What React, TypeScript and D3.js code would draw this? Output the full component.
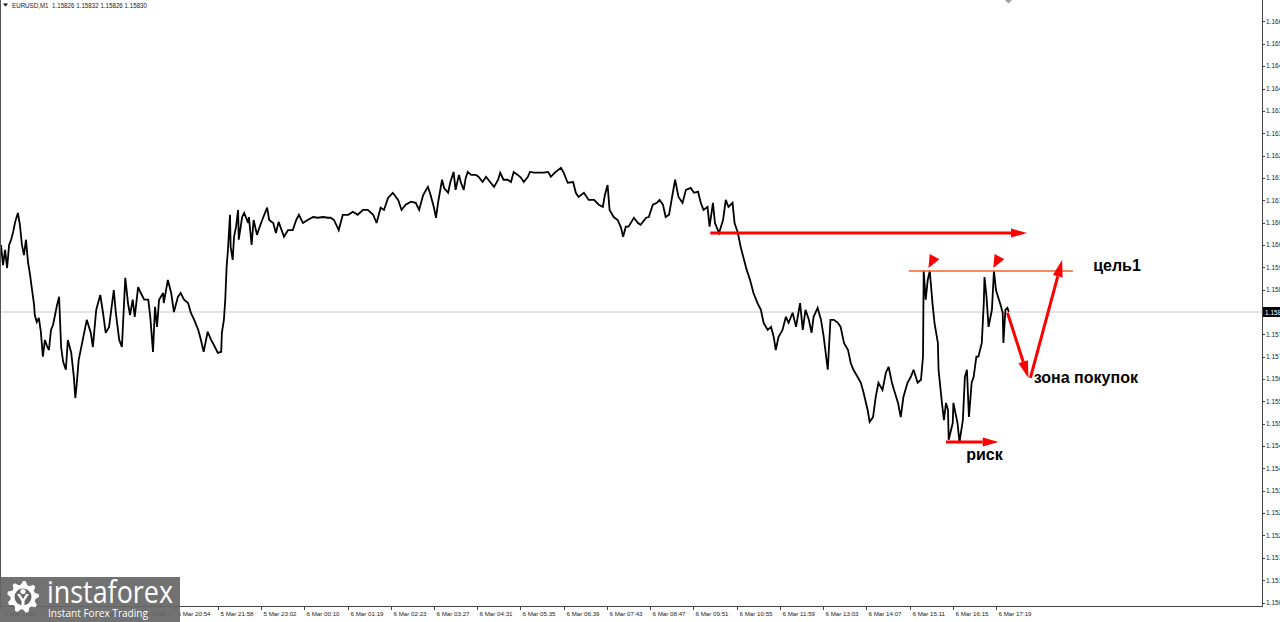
import React from "react";
import * as d3 from "d3";

const W = 1280;
const H = 622;

// ---- data (M1 bar index from chart start, price) ----
const bars = [0,3,6,9,12,15,18,21,25,28,31,34,37,40,43,46,49,50,53,56,59,62,65,68,71,74,77,80,83,86,89,92,96,99,104,108,110,112,115,121,127,133,136,141,147,151,155,160,167,170,175,179,184,188,191,195,198,203,207,212,218,221,225,228,231,234,240,241,247,252,256,262,266,271,277,281,286,292,296,300,306,311,315,321,326,327,330,332,334,336,339,340,343,345,348,351,352,357,360,366,367,371,374,379,383,388,394,397,403,407,411,419,425,432,437,441,447,454,462,469,477,484,488,493,500,506,514,521,528,536,543,551,556,562,567,573,580,588,593,599,607,614,619,625,632,636,641,644,647,653,656,662,665,670,673,678,681,685,688,691,696,703,707,713,718,725,730,736,739,744,750,755,759,765,770,774,780,783,789,796,804,810,814,821,829,833,839,847,851,855,863,870,878,885,891,894,898,901,907,913,918,921,925,929,937,943,947,955,959,965,971,975,980,984,989,992,998,1003,1009,1014,1021,1026,1032,1036,1040,1046,1049,1054,1057,1063,1069,1073,1077,1083,1086,1091,1095,1100,1104,1109,1114,1120,1125,1129,1135,1140,1144,1147,1151,1157,1162,1166,1172,1177,1183,1187,1191,1196,1200,1203,1209,1214,1218,1224,1228,1233,1239,1243,1248,1254,1258,1262,1268,1273,1277,1283,1286,1291,1295,1299,1305,1310,1314,1319,1322,1328,1332,1336,1342,1347,1351,1357,1362,1365,1366,1369,1372,1375,1379,1382,1387,1388,1393,1396,1399,1402,1403,1409,1410,1416,1419,1424,1427,1430,1433,1437,1440,1444,1447,1452,1455,1456,1459,1462,1467,1470,1473,1476,1479,1483,1484,1487,1490,1492];

const prices = [
1.16010,1.15956,1.15997,1.15948,1.16010,1.16024,1.16045,1.16072,1.16096,1.16064,1.16010,1.15983,1.16024,1.15964,1.15930,1.15889,1.15849,1.15822,1.15803,1.15814,1.15777,1.15710,1.15755,1.15739,1.15728,1.15782,1.15795,1.15822,1.15849,1.15871,
1.15736,1.15696,1.15675,1.15755,1.15720,1.15653,1.15599,1.15634,1.15701,1.15755,1.15809,1.15774,1.15736,1.15836,1.15876,1.15828,1.15774,1.15790,1.15889,1.15828,1.15755,1.15736,1.15922,1.15854,1.15822,1.15863,1.15817,1.15897,1.15881,1.15863,
1.15863,1.15817,1.15723,1.15844,1.15790,1.15863,1.15881,1.15854,1.15916,1.15881,1.15830,1.15871,1.15881,1.15863,1.15854,1.15828,1.15809,1.15782,1.15755,1.15723,1.15777,1.15755,1.15742,1.15720,1.15723,1.15774,1.15809,1.15863,1.15951,1.15997,
1.16091,1.16005,1.15970,1.16032,1.16059,1.16104,1.16024,1.16085,1.16096,1.16069,1.16085,1.16010,1.16077,1.16037,1.16059,1.16083,1.16110,1.16077,1.16069,1.16042,1.16072,1.16032,1.16050,1.16050,1.16077,1.16091,1.16069,1.16077,1.16085,1.16083,
1.16085,1.16083,1.16083,1.16077,1.16050,1.16091,1.16091,1.16099,1.16091,1.16104,1.16104,1.16091,1.16069,1.16110,1.16104,1.16136,1.16150,1.16131,1.16104,1.16118,1.16126,1.16123,1.16104,1.16144,1.16166,1.16144,1.16110,1.16083,1.16123,1.16185,
1.16163,1.16150,1.16177,1.16206,1.16158,1.16198,1.16177,1.16158,1.16190,1.16206,1.16198,1.16198,1.16193,1.16179,1.16193,1.16177,1.16166,1.16185,1.16204,1.16185,1.16185,1.16179,1.16206,1.16198,1.16190,1.16179,1.16193,1.16206,1.16204,1.16204,
1.16204,1.16206,1.16193,1.16206,1.16217,1.16204,1.16177,1.16179,1.16150,1.16139,1.16150,1.16131,1.16131,1.16118,1.16112,1.16144,1.16171,1.16104,1.16085,1.16077,1.16056,1.16032,1.16059,1.16059,1.16083,1.16069,1.16064,1.16083,1.16085,1.16118,1.16123,1.16131,1.16118,1.16085,1.16091,
1.16123,1.16185,1.16139,1.16123,1.16158,1.16163,1.16150,1.16153,1.16123,1.16104,1.16112,1.16059,1.16123,1.16069,1.16042,1.16077,1.16131,1.16112,1.16123,1.16069,1.16042,1.16005,1.15970,1.15943,1.15916,1.15881,1.15854,1.15836,1.15801,1.15782,
1.15790,1.15763,1.15728,1.15763,1.15782,1.15817,1.15801,1.15828,1.15790,1.15854,1.15782,1.15836,1.15809,1.15774,1.15817,1.15841,1.15809,1.15763,1.15675,1.15809,1.15809,1.15801,1.15790,1.15747,1.15728,1.15693,1.15675,1.15656,1.15640,1.15613,
1.15567,1.15535,1.15548,1.15602,1.15640,1.15621,1.15667,1.15683,1.15640,1.15621,1.15586,1.15548,1.15602,1.15640,1.15656,1.15675,1.15640,1.15648,1.15710,1.15940,1.15863,1.15916,1.15940,1.15854,1.15801,1.15747,1.15675,1.15586,1.15540,1.15586,
1.15567,1.15487,1.15532,1.15586,1.15532,1.15481,1.15540,1.15656,1.15675,1.15548,1.15640,1.15656,1.15710,1.15710,1.15747,1.15854,1.15924,1.15871,1.15790,1.15836,1.15940,1.15889,1.15871,1.15854,1.15828,1.15747,1.15836,1.15841,1.15830
];

const priceTicks = [1.15050,1.15110,1.15170,1.15230,1.15290,1.15350,1.15410,1.15470,1.15530,1.15590,1.15650,1.15710,1.15770,1.15830,1.15890,1.15950,1.16010,1.16070,1.16130,1.16190,1.16250,1.16310,1.16370,1.16430,1.16490,1.16550,1.16610];

const timeLabels = ["5 Mar 2025","5 Mar 17:42","5 Mar 18:46","5 Mar 19:50","5 Mar 20:54","5 Mar 21:58","5 Mar 23:02","6 Mar 00:10","6 Mar 01:19","6 Mar 02:23","6 Mar 03:27","6 Mar 04:31","6 Mar 05:35","6 Mar 06:39","6 Mar 07:43","6 Mar 08:47","6 Mar 09:51","6 Mar 10:55","6 Mar 11:59","6 Mar 13:03","6 Mar 14:07","6 Mar 15:11","6 Mar 16:15","6 Mar 17:19"];
const firstLabelBar = 1;
const barsPerLabel = 64;

const symbolHeader = "EURUSD,M1  1.15826 1.15832 1.15826 1.15830";
const lastPrice = 1.15830;

// ---- annotations (in bar / price units) ----
const levelArrow = { fromBar: 1050, toBar: 1519, price: 1.16042 };
const targetLine = { fromBar: 1344, toBar: 1587, price: 1.15940 };
const peakBars = [1373, 1469];
const riskArrow = { fromBar: 1399, toBar: 1477, price: 1.15481 };
const scenarioBars = [1490, 1521, 1571];
const scenarioPrices = [1.15828, 1.15653, 1.15970];
const noteTexts = ["цель1", "зона покупок", "риск"];
const noteBars = [1617, 1529, 1429];
const notePrices = [1.15940, 1.15640, 1.15433];

// ---- layout ----
const plotLeft = 1;
const plotRight = 1262;
const plotBottom = 606;
const pxPerBar = 43.23 / 64;

const x = d3.scaleLinear().domain([0, (plotRight - plotLeft) / pxPerBar]).range([plotLeft, plotRight]);
const y = d3.scaleLinear().domain([1.1505, 1.1661]).range([602.55, 21.45]);

function arrowHead(x1: number, y1: number, x2: number, y2: number, L: number, w: number) {
  const dx = x2 - x1, dy = y2 - y1;
  const len = Math.hypot(dx, dy);
  const ux = dx / len, uy = dy / len;
  const bx = x2 - ux * L, by = y2 - uy * L;
  const nx = -uy, ny = ux;
  return {
    base: [bx, by],
    points: `${x2},${y2} ${bx + nx * w},${by + ny * w} ${bx - nx * w},${by - ny * w}`,
  };
}

function gearPath(cx: number, cy: number, rOut: number, rIn: number, teeth: number) {
  const p = d3.path();
  const n = teeth * 4;
  for (let i = 0; i < n; i++) {
    const a = (i / n) * Math.PI * 2 - Math.PI / 2;
    const r = i % 4 < 2 ? rOut : rIn;
    const px = cx + r * Math.cos(a), py = cy + r * Math.sin(a);
    if (i === 0) p.moveTo(px, py); else p.lineTo(px, py);
  }
  p.closePath();
  return p.toString();
}

export default function App() {
  const series = bars.map((b, i) => [b, prices[i]] as [number, number]);
  const line = d3.line<[number, number]>().x(d => x(d[0])).y(d => y(d[1]));

  const red = "#ff0000";
  const axisFont = "'Liberation Sans', Arial, sans-serif";

  const la = arrowHead(x(levelArrow.fromBar), y(levelArrow.price), x(levelArrow.toBar), y(levelArrow.price), 16, 4.5);
  const ra = arrowHead(x(riskArrow.fromBar), y(riskArrow.price), x(riskArrow.toBar), y(riskArrow.price), 16, 4.5);
  const sp = scenarioBars.map((b, i) => [x(b), y(scenarioPrices[i])]);
  const s1 = arrowHead(sp[0][0], sp[0][1], sp[1][0], sp[1][1], 17, 5);
  const s2 = arrowHead(sp[1][0] + 2, sp[1][1], sp[2][0], sp[2][1], 17, 5);

  const lastY = y(lastPrice);

  return (
    <svg width={W} height={H} style={{ position: "absolute", left: 0, top: 0, background: "#fff" }}>
      <defs>
        <clipPath id="plot">
          <rect x={plotLeft} y={0} width={plotRight - plotLeft} height={plotBottom} />
        </clipPath>
      </defs>
      <rect x={0} y={0} width={W} height={H} fill="#fff" />

      {/* bid line */}
      <line x1={plotLeft} x2={plotRight} y1={lastY} y2={lastY} stroke="#c8c8c8" strokeWidth={1} />

      {/* price series */}
      <g clipPath="url(#plot)">
        <path d={line(series) || ""} fill="none" stroke="#000" strokeWidth={1.8} strokeLinejoin="miter" strokeMiterlimit={3} />
      </g>

      {/* frame */}
      <line x1={0.5} x2={0.5} y1={0} y2={plotBottom} stroke="#555" strokeWidth={1} />
      <line x1={plotRight + 0.5} x2={plotRight + 0.5} y1={0} y2={plotBottom + 0.5} stroke="#444" strokeWidth={1} />
      <line x1={0} x2={plotRight + 0.5} y1={plotBottom + 0.5} y2={plotBottom + 0.5} stroke="#444" strokeWidth={1} />

      {/* chart shift marker */}
      <path d="M1005,0 L1012,0 L1008.5,3.5 Z" fill="#a0a0a0" />

      {/* price axis */}
      {priceTicks.map((p, i) => (
        <g key={"pt" + i}>
          <line x1={plotRight} x2={plotRight + 3} y1={Math.round(y(p)) + 0.5} y2={Math.round(y(p)) + 0.5} stroke="#444" />
          <text x={plotRight + 4} y={y(p) + 2.3} fontSize={6.5} fontFamily={axisFont} fill="#222">{p.toFixed(5)}</text>
        </g>
      ))}
      <rect x={plotRight + 1} y={lastY - 5} width={W - plotRight} height={10} fill="#000" />
      <text x={plotRight + 3} y={lastY + 2.5} fontSize={6.5} fontFamily={axisFont} fill="#fff">{lastPrice.toFixed(5)}</text>

      {/* time axis */}
      {timeLabels.map((t, i) => {
        const xx = Math.round(x(firstLabelBar + i * barsPerLabel)) + 0.5;
        return (
          <g key={"tl" + i}>
            <line x1={xx} x2={xx} y1={plotBottom} y2={plotBottom + 4} stroke="#444" />
            <text x={xx + 2} y={plotBottom + 10} fontSize={6.2} fontFamily={axisFont} fill="#222">{t}</text>
          </g>
        );
      })}

      {/* header */}
      <path d="M3,3.5 L8,3.5 L5.5,6.5 Z" fill="#000" />
      <text x={12} y={7.5} fontSize={6.5} fontFamily={axisFont} fill="#222" textLength={135} lengthAdjust="spacingAndGlyphs" style={{ whiteSpace: "pre" }}>{symbolHeader}</text>

      {/* annotations */}
      <line x1={x(levelArrow.fromBar)} x2={la.base[0]} y1={y(levelArrow.price)} y2={la.base[1]} stroke={red} strokeWidth={3} />
      <polygon points={la.points} fill={red} />

      <line x1={x(targetLine.fromBar)} x2={x(targetLine.toBar)} y1={y(targetLine.price)} y2={y(targetLine.price)} stroke="#f5622d" strokeWidth={1.5} />

      {peakBars.map((b, i) => {
        const tx = x(b), ty = y(targetLine.price) - 3;
        const h = arrowHead(tx + 7, ty - 13, tx, ty, 13, 5.5);
        return <polygon key={"pk" + i} points={h.points} fill={red} />;
      })}

      <line x1={x(riskArrow.fromBar)} x2={ra.base[0]} y1={y(riskArrow.price)} y2={ra.base[1]} stroke={red} strokeWidth={3} />
      <polygon points={ra.points} fill={red} />

      <line x1={sp[0][0]} y1={sp[0][1]} x2={s1.base[0]} y2={s1.base[1]} stroke={red} strokeWidth={3} />
      <polygon points={s1.points} fill={red} />
      <line x1={sp[1][0] + 2} y1={sp[1][1]} x2={s2.base[0]} y2={s2.base[1]} stroke={red} strokeWidth={3} />
      <polygon points={s2.points} fill={red} />

      {noteTexts.map((t, i) => (
        <text key={"nt" + i} x={x(noteBars[i])} y={y(notePrices[i])} fontSize={16} fontWeight="bold" fontFamily="'Liberation Sans', Arial, sans-serif" fill="#000">{t}</text>
      ))}

      {/* logo */}
      <g>
        <rect x={0} y={577} width={180} height={45} fill="#666" opacity={0.92} />
        <path d={gearPath(23, 597, 16, 12.5, 9)} fill="#fff" />
        <circle cx={23} cy={597} r={8.5} fill="#666" />
        <circle cx={23} cy={591.5} r={2.6} fill="#fff" />
        <path d="M17,594 L20,594 L23,599 L26,594 L29,594 L24.5,601 L24.5,608 L21.5,608 L21.5,601 Z" fill="#fff" />
        <text x={47} y={603} fontSize={31} fontFamily="'Open Sans', 'Liberation Sans', sans-serif" fill="#fff" textLength={126} lengthAdjust="spacingAndGlyphs">instaforex</text>
        <text x={48} y={617} fontSize={11.5} fontFamily="'Open Sans', 'Liberation Sans', sans-serif" fill="#fff" textLength={100} lengthAdjust="spacingAndGlyphs">Instant Forex Trading</text>
      </g>
    </svg>
  );
}
